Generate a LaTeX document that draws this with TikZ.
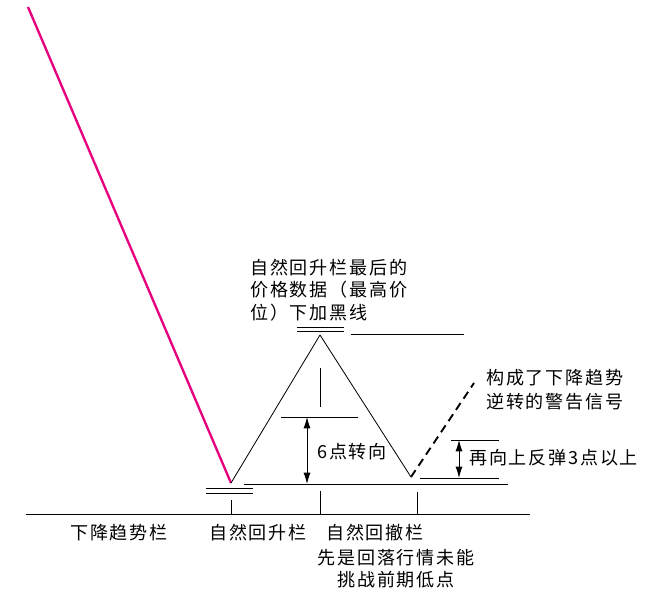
\documentclass[tikz,border=0pt]{standalone}
\usepackage{fontspec}
\usetikzlibrary{arrows.meta}
\newfontfamily\cjk[LetterSpace=10]{Noto Sans CJK SC}
\definecolor{trendpink}{RGB}{230,0,126}

\begin{document}
\begin{tikzpicture}[x=0.03cm, y=-0.03cm,
    every node/.style={inner sep=0pt, text=black, font={\cjk\fontsize{15.4}{19.2}\selectfont}},
    every edge/.style={draw=black, line width=0.7pt},
    span/.style={draw=black, line width=0.7pt, {Latex[length=3.4mm,width=2.1mm]}-{Latex[length=3.4mm,width=2.1mm]}}]
			\useasboundingbox (0,0) rectangle (651,596);

			% swing points
			\coordinate (s) at (28,7);
			\coordinate (a) at (231,483);
			\coordinate (p) at (320,335);
			\coordinate (b) at (411,477);
			\coordinate (w) at (474,383);

			\path (s) edge[draw=trendpink, line width=2pt] (a);
			\path (a) edge (p);
			\path (p) edge (b);
			\path (b) edge[line width=1.6pt, dash pattern=on 7pt off 4.5pt] (w);

			% black underlines
			\foreach \y in {488,493} \path (206,\y) edge (253,\y);
			\foreach \y in {327,331} \path (297,\y) edge (344,\y);

			% reference lines
			\path (351,334) edge (464,334);
			\path (320,368) edge (320,407);
			\path (281,417) edge (358,417);
			\path (244,484) edge (508,484);
			\path (451,440) edge (499,440);
			\path (420,478) edge (499,478);
			\path (26,514) edge (530,514);
			\path (231,500) edge (231,514);
			\path (320,491) edge (320,514);
			\path (417,492) edge (417,514);

			\coordinate (u6) at (307,417);
			\coordinate (l6) at (307,484);
			\coordinate (u3) at (459,440);
			\coordinate (l3) at (459,478);
			\draw[span] (u6) -- (l6);
			\draw[span] (u3) -- (l3);

			% labels
			\node[anchor=west, align=left] (peaknote) at (250,290) {自然回升栏最后的\\价格数据（最高价\\位）下加黑线};
			\node[anchor=west, align=left, font={\cjk\fontsize{15.4}{20.4}\selectfont}] (warn) at (486,390) {构成了下降趋势\\逆转的警告信号};
			\node[anchor=west] (six) at (317,452) {6点转向};
			\node[anchor=west] (three) at (469,458) {再向上反弹3点以上};
			\node (down) at (119,533) {下降趋势栏};
			\node (rally) at (258,533) {自然回升栏};
			\node (react) at (375,533) {自然回撤栏};
			\node[align=center, font={\cjk\fontsize{15.4}{18.7}\selectfont}] (fail) at (396,569) {先是回落行情未能\\挑战前期低点};
\end{tikzpicture}
\end{document}
